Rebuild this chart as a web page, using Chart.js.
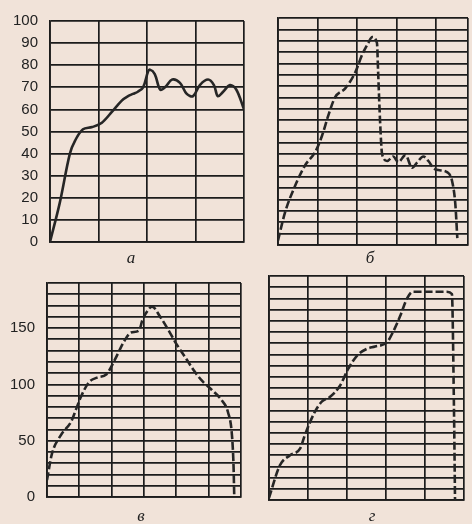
<!DOCTYPE html>
<html><head><meta charset="utf-8">
<script src="https://cdn.jsdelivr.net/npm/chart.js@4.4.1/dist/chart.umd.min.js"></script>
<style>
html,body{margin:0;padding:0;background:#f1e3d9;}
#wrap{position:relative;width:472px;height:524px;overflow:hidden;background:#f1e3d9;}
canvas{position:absolute;}
.lbl{position:absolute;font:italic 17px "Liberation Serif",serif;color:#222;transform:translate(-50%,-50%);}
</style></head><body>
<div id="wrap">
<canvas id="ca" width="250" height="268" style="left:0;top:0"></canvas>
<canvas id="cb" width="210" height="268" style="left:262px;top:0"></canvas>
<canvas id="cc" width="250" height="262" style="left:0;top:262px"></canvas>
<canvas id="cd" width="217" height="262" style="left:255px;top:262px"></canvas>
<div class="lbl" style="left:131px;top:258px">а</div>
<div class="lbl" style="left:370px;top:258px">б</div>
<div class="lbl" style="left:141px;top:516px">в</div>
<div class="lbl" style="left:372px;top:516px">г</div>
</div>
<script>
// Panel а
const xA = [0,0.2,0.41,0.52,0.68,0.87,1.07,1.28,1.48,1.61,1.71,1.81,1.92,2.02,2.06,2.16,2.27,2.37,2.52,2.68,2.82,2.95,3.09,3.26,3.38,3.46,3.57,3.71,3.84,4];
const yA = [0,17.6,40,46,51,52,54,59,64,66,67,68,70,77,78,76,69,70,73.5,72,67,66,71,73.5,71,66,68,71,69,60];
// Panel б
const xB = [0,0.18,0.43,0.68,0.94,1.11,1.27,1.44,1.7,1.95,2.13,2.28,2.38,2.5,2.53,2.58,2.63,2.76,2.91,3.04,3.22,3.39,3.52,3.67,3.8,3.92,4.05,4.28,4.4,4.48,4.53];
const yB = [2,14.5,26,35,41,48,57,65,69,76,84,89,91.6,89,76,54,40,37,39,36.5,39.6,34,36.5,39,37,34,33,32,28,18,3];
// Panel в
const xC = [0,0.15,0.43,0.75,0.9,1.05,1.3,1.55,1.84,2.1,2.4,2.6,2.85,2.95,3.1,3.25,3.5,3.8,4.0,4.3,4.55,4.8,5.1,5.4,5.6,5.72,5.77,5.79];
const yC = [15,38,55,67,78,89,102,106,109,122,139,146,148,157,165,169,160,146,136,123,112,103,95,86,75,55,27,2];
// Panel г
const xD = [0,0.28,0.54,0.8,0.92,1.18,1.36,1.56,1.82,2.03,2.26,2.51,2.72,3.03,3.18,3.36,3.54,3.69,4.56,4.69,4.74,4.77];
const yD = [2,31,40,46,58,79,88,92,102,117,129,135,137,141,150,164,180,186,186,184,89,0];

const ink = '#1c1c1c';
function pts(xs, ys){ return xs.map((x,i)=>({x:x,y:ys[i]})); }

function makeChart(id, xs, ys, cfg){
  new Chart(document.getElementById(id), {
    type:'line',
    data:{datasets:[{data:pts(xs,ys), borderColor:'#262626', borderWidth:2.6, pointRadius:0,
      tension:cfg.tension, cubicInterpolationMode:cfg.mono?'monotone':'default', fill:false, borderDash:cfg.dash||[]}]},
    options:{
      responsive:false, animation:false,
      layout:{padding:{top:cfg.padTop, right:cfg.padRight, left:0, bottom:0}},
      plugins:{legend:{display:false}, tooltip:{enabled:false}},
      scales:{
        x:{type:'linear', min:0, max:cfg.xmax,
           ticks:{display:false, stepSize:1, autoSkip:false},
           grid:{color:ink, lineWidth:1.7, drawTicks:false},
           border:{color:ink, width:1.8},
           afterFit:(s)=>{s.height=cfg.xHeight;}},
        y:{type:'linear', min:0, max:cfg.ymax,
           ticks:{display:cfg.showY, stepSize:cfg.ystep, autoSkip:false, padding:cfg.yPad||12, color:'#222',
                  font:{family:'"Liberation Sans", Arial, sans-serif', size:15},
                  callback:cfg.cb || ((v)=>v)},
           grid:{color:ink, lineWidth:1.7, drawTicks:false},
           border:{color:ink, width:1.8},
           afterFit:(s)=>{s.width=cfg.yWidth;}}
      }
    }
  });
}

makeChart('ca', xA, yA, {xmax:4, ymax:100, ystep:10, showY:true, yWidth:50, padTop:15, padRight:6, xHeight:26, yPad:12, tension:0.35});
makeChart('cb', xB, yB, {xmax:4.8, ymax:100, ystep:5, showY:false, yWidth:16, padTop:18, padRight:4, xHeight:23, dash:[8,3], mono:true});
makeChart('cc', xC, yC, {xmax:6, ymax:190, ystep:10, showY:true, yWidth:47, padTop:11, padRight:9, xHeight:27, yPad:12,
  cb:(v)=> (v%50===0 ? v : ''), dash:[8,3], mono:true});
makeChart('cd', xD, yD, {xmax:5, ymax:200, ystep:10, showY:false, yWidth:14, padTop:14, padRight:8, xHeight:24, dash:[8,3], mono:true});
</script>
</body></html>
